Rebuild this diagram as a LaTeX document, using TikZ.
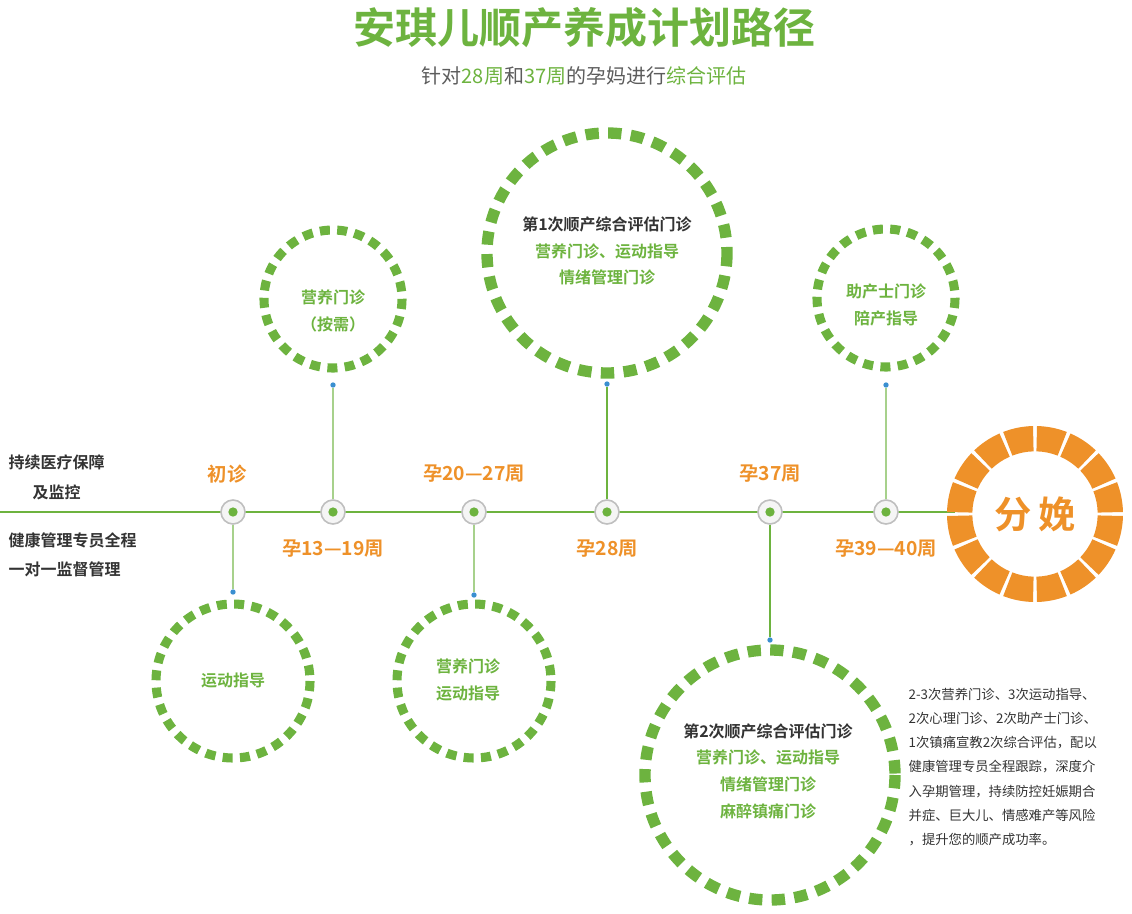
\documentclass[tikz,border=0pt]{standalone}
\usepackage{fontspec}
\newfontfamily\cjk{Noto Sans CJK SC}
\newfontfamily\cjkb{Noto Sans CJK SC Bold}
\definecolor{gr}{HTML}{6DB33F}
\definecolor{og}{HTML}{EE9129}
\definecolor{dk}{HTML}{333333}
\definecolor{bl}{HTML}{3A8FD0}
\begin{document}
\begin{tikzpicture}[x=0.75pt,y=-0.75pt,
  ring/.style={draw=gr,line width=6.8pt,dash pattern=on 7.5pt off 5.5pt},
  bigring/.style={draw=gr,line width=8.5pt,dash pattern=on 10pt off 7pt},
  ctext/.style={font=\cjkb\fontsize{12}{20}\selectfont,text=gr,align=center},
  olab/.style={font=\cjkb\fontsize{14.5}{16}\selectfont,text=og},
  llab/.style={font=\cjkb\fontsize{12}{16}\selectfont,text=dk,anchor=west},
  mk/.style={circle,draw=black!25,line width=1.2pt,fill=black!4,minimum size=18pt,inner sep=0pt,path picture={\fill[gr] (path picture bounding box.center) circle (3.5pt);}},
  thin/.style={draw=gr!60,line width=0.8pt},
  thick/.style={draw=gr,line width=1.6pt},
  bdot/.style={circle,fill=bl,inner sep=0pt,minimum size=4pt}]
\useasboundingbox (0,0) rectangle (1132,914);
\node[font=\cjkb\fontsize{31.5}{34}\selectfont,text=gr] (title) at (584,28) {安琪儿顺产养成计划路径};
\node[font=\cjk\fontsize{15}{18}\selectfont,text=dk!80] (sub) at (584,76) {针对\textcolor{gr}{28周}和\textcolor{gr}{37周}的孕妈进行\textcolor{gr}{综合评估}};
% timeline
\coordinate (ls) at (0,512); \coordinate (le) at (955,512);
\draw[gr,line width=1.5pt] (ls) -- (le);
\foreach \n/\x in {m1/233,m2/333,m3/474,m4/607,m5/770,m6/886}{\node[mk] (\n) at (\x,512) {};}
% circles
\draw[ring] (333,299) circle (69);
\draw[bigring] (607,253) circle (120);
\draw[ring] (886,298) circle (69);
\draw[ring] (233,681) circle (77);
\draw[ring] (474,681) circle (77);
\draw[bigring] (770,775) circle (125);
\node[ctext] (c1) at (333,311) {营养门诊\\（按需）};
\node[ctext,align=center] (c2) at (607,251) {\textcolor{dk}{第1次顺产综合评估门诊}\\营养门诊、运动指导\\情绪管理门诊};
\node[ctext] (c3) at (886,305) {助产士门诊\\陪产指导};
\node[ctext] (c4) at (233,680) {运动指导};
\node[ctext] (c5) at (468,680) {营养门诊\\运动指导};
\node[ctext] (c6) at (768,771) {\textcolor{dk}{第2次顺产综合评估门诊}\\营养门诊、运动指导\\情绪管理门诊\\麻醉镇痛门诊};
% connectors
\node[bdot] (d2) at (333,385) {}; \draw[thin] (d2) -- (m2);
\node[bdot] (d4) at (607,384) {}; \draw[thick] (d4) -- (m4);
\node[bdot] (d6) at (886,385) {}; \draw[thin] (d6) -- (m6);
\node[bdot] (d1) at (233,592) {}; \draw[thin] (m1) -- (d1);
\node[bdot] (d3) at (474,595) {}; \draw[thin] (m3) -- (d3);
\node[bdot] (d5) at (770,640) {}; \draw[thick] (m5) -- (d5);
% labels
\node[olab] (l1) at (227,474) {初诊};
\node[olab] (l2) at (333,549) {孕13—19周};
\node[olab] (l3) at (474,474) {孕20—27周};
\node[olab] (l4) at (607,549) {孕28周};
\node[olab] (l5) at (770,474) {孕37周};
\node[olab] (l6) at (886,549) {孕39—40周};
\node[llab] (t1) at (4,462) {持续医疗保障};
\node[llab] (t2) at (28,492) {及监控};
\node[llab] (t3) at (4,540) {健康管理专员全程};
\node[llab] (t4) at (4,569) {一对一监督管理};
\node[font=\cjk\fontsize{10}{18.2}\selectfont,text=dk,anchor=north west,align=left] (para) at (904,683) {2-3次营养门诊、3次运动指导、\\2次心理门诊、2次助产士门诊、\\1次镇痛宣教2次综合评估，配以\\健康管理专员全程跟踪，深度介\\入孕期管理，持续防控妊娠期合\\并症、巨大儿、情感难产等风险\\，提升您的顺产成功率。};
% orange ring
\begin{scope}[shift={(1035,514)}]
\foreach \i in {0,...,15}{
  \fill[og] ({\i*22.5+1.3}:66pt) arc ({\i*22.5+1.3}:{\i*22.5+21.2}:66pt) -- ({\i*22.5+21.2}:47pt) arc ({\i*22.5+21.2}:{\i*22.5+1.3}:47pt) -- cycle;
}
\node[font=\cjkb\fontsize{28}{30}\selectfont,text=og] (fw) at (0,0) {分\,娩};
\end{scope}
\end{tikzpicture}
\end{document}
